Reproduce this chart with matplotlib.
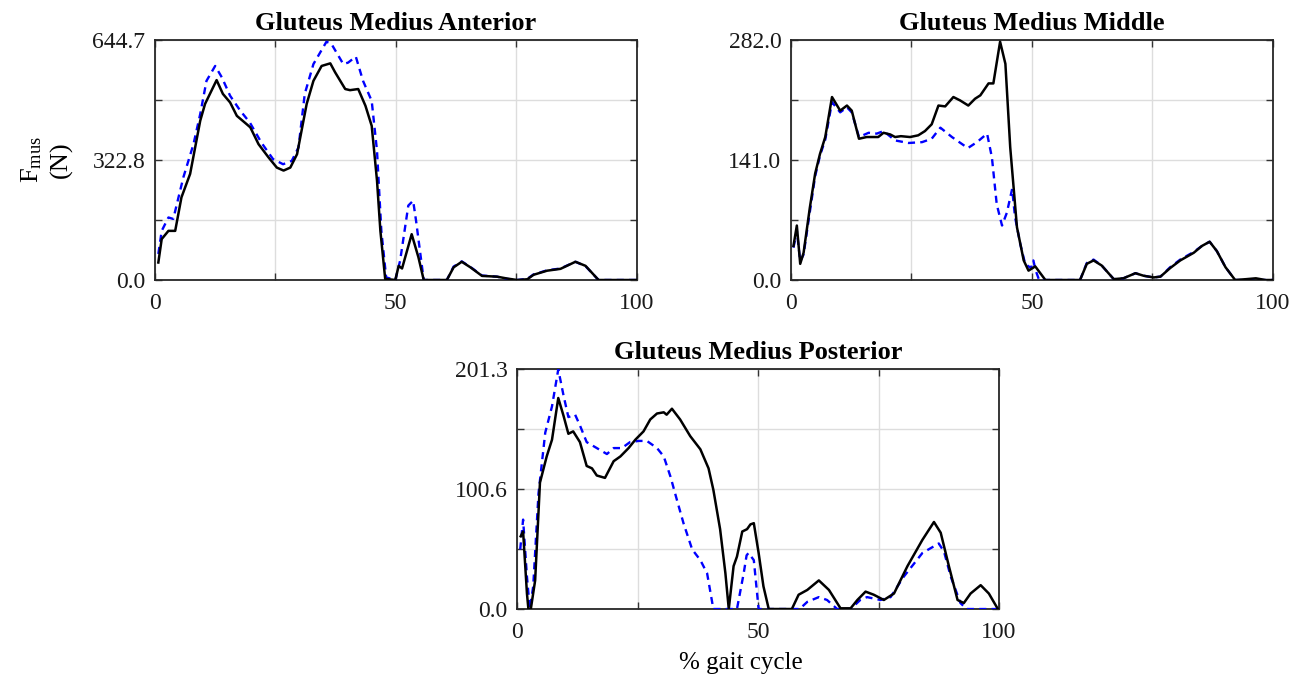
# muscle force curves over the gait cycle, three gluteus medius bundles
import numpy as np
from matplotlib import pyplot as plt

plt.rcParams['font.family'] = ['Liberation Serif', 'DejaVu Serif']
plt.rcParams['mathtext.fontset'] = 'custom'
plt.rcParams['mathtext.rm'] = 'Liberation Serif'

# gluteus medius anterior
ant_x_black = [0.7, 1.4, 2.8, 4.2, 5.5, 7.3, 9.4, 10.4, 12.8, 14.1, 15.6, 17, 19, 19.8, 21.5, 23.6, 25.3, 26.7,
               28.1, 29.5, 31.5, 32.9, 34.6, 36.4, 37.4, 39.5, 40.5, 42.2, 43.7, 45, 46.1, 46.8, 47.8, 49.9,
               50.6, 51.3, 53.3, 54.7, 55.8, 60.6, 62, 63.7, 65.5, 67.9, 71, 73.1, 75.2, 77.3, 78.6, 81.4,
               84.2, 87.3, 89.4, 92.1, 100]
ant_black = [47, 110, 132, 132, 222, 285, 428, 473, 537, 500, 477, 441, 419, 410, 365, 329, 302, 294,
             302, 338, 473, 535, 575, 582, 558, 513, 510, 513, 468, 414, 267, 132, 3, 0,
             38, 31, 123, 61, 0, 0, 34, 49, 34, 11, 9, 4, 0, 2, 14, 25,
             30, 49, 38, 0, 0]
ant_x_blue = [0.7, 1.4, 2.8, 3.8, 5.9, 8, 9.4, 10.7, 12.5, 13.9, 15.6, 17.7, 19.7, 22.1, 24.5, 26.6, 28.4,
              29.8, 31.1, 32.9, 35.6, 36.6, 39.1, 40.1, 41.7, 43.2, 45, 46.1, 47, 48, 49.9, 50.9, 52.6,
              53.6, 54.2, 55, 55.8, 60.6, 62, 63.7, 65.5, 67.9, 71, 73.1, 75.2, 77.3, 78.6, 81.4, 84.2,
              87.3, 89.4, 92.1, 100]
ant_blue = [70, 132, 168, 164, 276, 365, 446, 535, 575, 544, 495, 455, 423, 369, 325, 311, 320,
            356, 500, 580, 640, 635, 580, 584, 600, 535, 481, 347, 132, 7, 0, 52, 200,
            213, 160, 80, 0, 0, 36, 50, 35, 12, 9, 3, 0, 3, 15, 26, 31,
            49, 37, 0, 0]

# gluteus medius middle
mid_x_black = [0.5, 1.2, 1.9, 2.6, 3.9, 5, 6, 7.1, 8.5, 10.2, 11.6, 12.6, 14.1, 15.7, 18.1, 19.2, 20.6, 21.6,
               22.8, 24.7, 26.4, 27.8, 29.2, 30.6, 32, 33.7, 35.1, 36.8, 38.2, 39.3, 41, 42, 43.4, 44.5,
               45.5, 46.9, 48.3, 49.3, 50.7, 52.8, 60, 61.4, 62.8, 64.5, 67, 69, 71.5, 73.2, 75.3, 76.7,
               78.7, 80.8, 83.6, 85.3, 86.9, 88.4, 90.2, 92.2, 94.5, 96.5, 98.5, 100]
mid_black = [40, 64, 19, 32, 85, 125, 148, 168, 215, 199, 205, 199, 166, 168, 168, 173, 171, 168,
             169, 168, 170, 175, 183, 205, 204, 215, 211, 205, 213, 217, 231, 231, 280, 254,
             156, 62, 23, 11, 16, 0, 0, 19, 23, 17, 1, 2, 8, 5, 3, 4,
             14, 23, 32, 40, 45, 34, 15, 0, 1, 2, 0, 0]
mid_x_blue = [0.5, 1.2, 1.9, 2.6, 3.9, 5, 6, 7.1, 8.5, 10.2, 11.6, 12.6, 14.1, 16.1, 17.8, 19.2, 21.6, 24.4,
              27.2, 29.2, 31, 33.4, 36.7, 38.6, 40.7, 41.7, 42.7, 43.8, 44.8, 45.9, 46.5, 47.6, 48.6,
              49.8, 50.3, 50.8, 51.5, 60, 61.4, 62.8, 64.5, 67, 69, 71.5, 73.2, 75.3, 76.7, 78.7, 80.8,
              83.6, 85.3, 86.9, 88.4, 90.2, 92.2, 100]
mid_blue = [38, 58, 22, 30, 80, 122, 146, 165, 209, 197, 203, 197, 168, 173, 172, 175, 164, 161,
            162, 166, 179, 168, 155, 162, 172, 144, 89, 64, 79, 107, 74, 42, 19,
            14, 23, 11, 0, 0, 20, 24, 17, 1, 2, 8, 5, 3, 4, 15, 24,
            33, 40, 45, 34, 15, 0, 0]

# gluteus medius posterior
post_x_black = [0.7, 1.2, 2, 2.3, 2.8, 3.7, 4.7, 6.1, 7.2, 8.5, 9.6, 10.6, 11.6, 13, 14.4, 15.5, 16.5, 18.2,
                20, 21.4, 23.1, 24.5, 26.2, 27.6, 29, 30.4, 31, 32.1, 33.8, 35.9, 38, 39.7, 40.7, 42.1,
                43.2, 43.9, 44.9, 45.6, 46.7, 47.7, 48.4, 49.1, 50.1, 51.1, 52.2, 57, 58.4, 60.2, 62.6,
                64.7, 67.1, 69.2, 70.6, 72.3, 74, 76.1, 78.2, 81, 84.1, 86.5, 87.9, 89.6, 91.4, 92.7,
                94.1, 96.2, 97.9, 99.7]
post_black = [61, 65, 13, 0, 0, 24, 106, 128, 142, 177, 162, 147, 149, 140, 120, 118, 112, 110,
              124, 128, 135, 142, 149, 159, 164, 165, 163, 168, 159, 145, 134, 118, 100, 67,
              30, 0, 36, 44, 65, 67, 71, 72, 47, 19, 0, 0, 12, 16, 24,
              16, 0.6, 0.6, 7.6, 14.6, 12, 7.6, 13, 36, 58, 73, 64, 36, 7.6, 5,
              13, 20, 13, 0.5]
post_x_blue = [0.6, 1.2, 2, 2.6, 3.3, 4.4, 5.8, 7.2, 8.5, 9.6, 10.6, 12, 13, 14.4, 16.5, 18.6, 20, 21.7,
               23.4, 25.2, 26.9, 29, 30.4, 31.8, 33.1, 34.5, 36.3, 38, 39.4, 40.7, 45.6, 47, 47.6, 48,
               49.1, 50.1, 58.6, 60.2, 62.6, 64.3, 66.4, 69.2, 71.2, 72.6, 75.4, 77.5, 80.2, 84.1, 87.5,
               88.6, 90, 92, 93.3, 100]
post_blue = [50, 75, 27, 0, 19, 97, 148, 170, 201, 179, 161, 163, 154, 140, 135, 130, 135, 135,
             140, 141, 141, 135, 128, 111, 92, 72, 50, 41, 30, 0, 0, 30, 45, 47,
             41, 0, 0, 6, 10, 7.6, 0, 0, 7.6, 10, 7.6, 10, 27, 47, 55,
             48, 27, 5, 0, 0]

titles = ['Gluteus Medius Anterior', 'Gluteus Medius Middle', 'Gluteus Medius Posterior']
y_max = [644.7, 282.0, 201.3]
y_labels = [['0.0', '322.8', '644.7'], ['0.0', '141.0', '282.0'], ['0.0', '100.6', '201.3']]

fig = plt.figure(figsize=(13.11, 6.77), dpi=100)
ax1 = fig.add_axes([0.1182, 0.5864, 0.3674, 0.3545])
ax2 = fig.add_axes([0.6034, 0.5864, 0.3674, 0.3545])
ax3 = fig.add_axes([0.3946, 0.1004, 0.3674, 0.3545])

panels = [(ax1, ant_x_black, ant_black, ant_x_blue, ant_blue),
          (ax2, mid_x_black, mid_black, mid_x_blue, mid_blue),
          (ax3, post_x_black, post_black, post_x_blue, post_blue)]

for i, (ax, xk, yk, xb, yb) in enumerate(panels):
    ax.plot(xb, yb, color='#0000ff', linestyle=(0, (3, 2.2)), linewidth=1.7, zorder=3)
    ax.plot(xk, yk, color='black', linewidth=1.8, zorder=4)
    ax.set_xlim(0, 100)
    ax.set_ylim(0, y_max[i])
    ax.set_xticks([0, 25, 50, 75, 100])
    ax.set_xticklabels(['0', '', '50', '', '100'])
    yt = np.linspace(0, y_max[i], 5)
    ax.set_yticks(yt)
    lab = y_labels[i]
    ax.set_yticklabels([lab[0], '', lab[1], '', lab[2]])
    ax.tick_params(direction='in', top=True, right=True, labelsize=17, length=5, width=1,
                   color='#333333', labelcolor='#1a1a1a')
    ax.tick_params(axis='x', pad=9)
    ax.tick_params(axis='y', pad=7)
    ax.grid(True, color='#dddddd', linewidth=1.0)
    for s in ax.spines.values():
        s.set_linewidth(1.3)
        s.set_color('#262626')
    ax.set_title(titles[i], fontsize=19, fontweight='bold', pad=7)

ax1.set_ylabel('$\\mathregular{F_{mus}}$\n(N)', fontsize=19, labelpad=14, linespacing=1.3)
ax3.set_xlabel('% gait cycle', fontsize=18)
ax3.xaxis.set_label_coords(0.464, -0.18)

plt.savefig('out.png', dpi=100)
